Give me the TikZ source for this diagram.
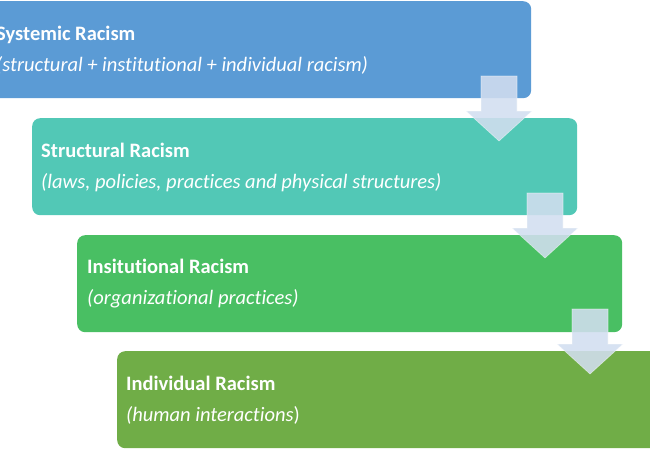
\documentclass[tikz,border=0pt]{standalone}
\usepackage{fontspec}
\setmainfont{Carlito}[Ligatures={NoCommon}]
\usepackage{tikz}

\definecolor{sysblue}{RGB}{91,155,213}
\definecolor{structteal}{RGB}{82,200,182}
\definecolor{instgreen}{RGB}{73,191,99}
\definecolor{indivolive}{RGB}{112,173,71}
\definecolor{arrowpale}{RGB}{210,222,240}

\tikzset{
  levelbox/.style={rectangle, rounded corners=8pt, minimum width=545pt, minimum height=97pt,
    inner sep=0pt, anchor=north west, draw=none},
  titletext/.style={anchor=base west, inner sep=0pt, text=white, font=\fontsize{20.5}{23}\selectfont\bfseries},
  notetext/.style={anchor=base west, inner sep=0pt, text=white, font=\fontsize{20.5}{23}\selectfont\itshape},
  flowarrow/.style={fill=arrowpale, fill opacity=0.88, draw=white, draw opacity=0.5, line width=0.6pt}
}

\begin{document}
\begin{tikzpicture}[x=1pt, y=-1pt]
            \useasboundingbox (0,0) rectangle (650,450);
            \clip (0,0) rectangle (650,450);

            \node[levelbox, fill=sysblue] (sys) at (-14, 1) {};
            \node[levelbox, fill=structteal] (struct) at (32, 118) {};
            \node[levelbox, fill=instgreen] (inst) at (77, 235) {};
            \node[levelbox, fill=indivolive] (indiv) at (117, 351) {};

            \node[titletext] (sysT) at (-4, 40) {Systemic Racism};
            \node[notetext] (sysN) at (-4, 71) {(structural + institutional + individual racism)};

            \node[titletext] (structT) at (41, 157) {Structural Racism};
            \node[notetext] (structN) at (41, 188) {(laws, policies, practices and physical structures)};

            \node[titletext] (instT) at (87, 273) {Insitutional Racism};
            \node[notetext] (instN) at (87, 304) {(organizational practices)};

            \node[titletext] (indivT) at (126, 390) {Individual Racism};
            \node[notetext] (indivN) at (126, 421) {(human interactions\upshape)};

            \foreach \cx/\ty in {499/76, 545/193, 590/309}
              \draw[flowarrow] (\cx-18, \ty) -- (\cx+18, \ty) -- (\cx+18, \ty+35) -- (\cx+33, \ty+35)
                -- (\cx, \ty+65) -- (\cx-33, \ty+35) -- (\cx-18, \ty+35) -- cycle;
        \end{tikzpicture}
\end{document}
